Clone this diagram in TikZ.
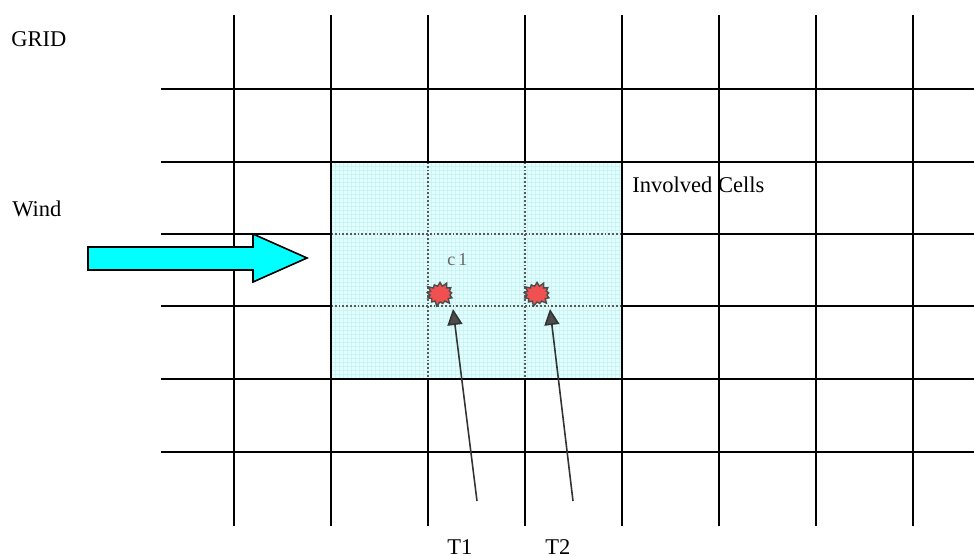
\documentclass[tikz,border=0pt]{standalone}
\usepackage{fontspec}
\setmainfont{Liberation Serif}
\usetikzlibrary{arrows.meta,shapes.symbols}
\definecolor{windcyan}{RGB}{0,255,255}
\definecolor{cellcyan}{RGB}{226,255,255}
\definecolor{cellgrid}{RGB}{204,242,242}
\definecolor{hotred}{RGB}{240,80,80}
\begin{document}
\begin{tikzpicture}[x=0.5pt,y=-0.5pt,
  gridline/.style={line width=1pt,black},
  innerline/.style={line width=0.9pt,gray!70!black,densely dotted},
  label/.style={font=\fontsize{11.25}{13}\selectfont,inner sep=0pt},
  hotspot/.style={starburst,starburst points=13,starburst point height=2.5pt,
    fill=hotred,draw=gray!60!black,line width=0.7pt,minimum width=15pt,minimum height=13pt,inner sep=0pt},
  pointer/.style={line width=0.8pt,black!80,
    -{Triangle[length=8pt,width=7.5pt,fill=gray!60!black,color=gray!40!black]}}]
\useasboundingbox (0,0) rectangle (974,556);
% grid
\foreach \x in {234,331,428,525,622,719,816,913}
  \draw[gridline] (\x,15) -- (\x,526);
\foreach \y in {89,162,234,306,379,452}
  \draw[gridline] (161,\y) -- (974,\y);
% involved cells
\fill[cellcyan] (331,162) rectangle (622,379);
\foreach \k in {335,339,...,620}
  \draw[cellgrid,line width=0.2pt] (\k,162) -- (\k,379);
\foreach \k in {166,170,...,378}
  \draw[cellgrid,line width=0.2pt] (331,\k) -- (622,\k);
\foreach \x in {428,525}
  \draw[innerline] (\x,162) -- (\x,379);
\foreach \y in {234,306}
  \draw[innerline] (331,\y) -- (622,\y);
\draw[gridline] (331,162) rectangle (622,379);
% wind
\draw[line width=0.8pt,fill=windcyan] (88,247) -- (253,247) -- (253,234)
  -- (307,258) -- (253,282) -- (253,270) -- (88,270) -- cycle;
% hot spots and pointers
\node[hotspot] (blob1) at (440,294) {};
\node[hotspot] (blob2) at (537,294) {};
\coordinate (t1tail) at (477,501);
\coordinate (t1tip) at (453,309);
\coordinate (t2tail) at (573,501);
\coordinate (t2tip) at (550,309);
\draw[pointer] (t1tail) -- (t1tip);
\draw[pointer] (t2tail) -- (t2tip);
% texts
\node[label,anchor=base west] (grid) at (11,47) {GRID};
\node[label,anchor=base west] (wind) at (12,216) {Wind};
\node[label,anchor=base west] (cells) at (632,192) {Involved Cells};
\node[label,anchor=base west,font=\fontsize{9}{11}\selectfont,gray!80!black] (c1) at (447,265) {c\kern1.5pt 1};
\node[label,anchor=base west] (t1) at (447,554) {T1};
\node[label,anchor=base west] (t2) at (545,554) {T2};
\end{tikzpicture}
\end{document}
